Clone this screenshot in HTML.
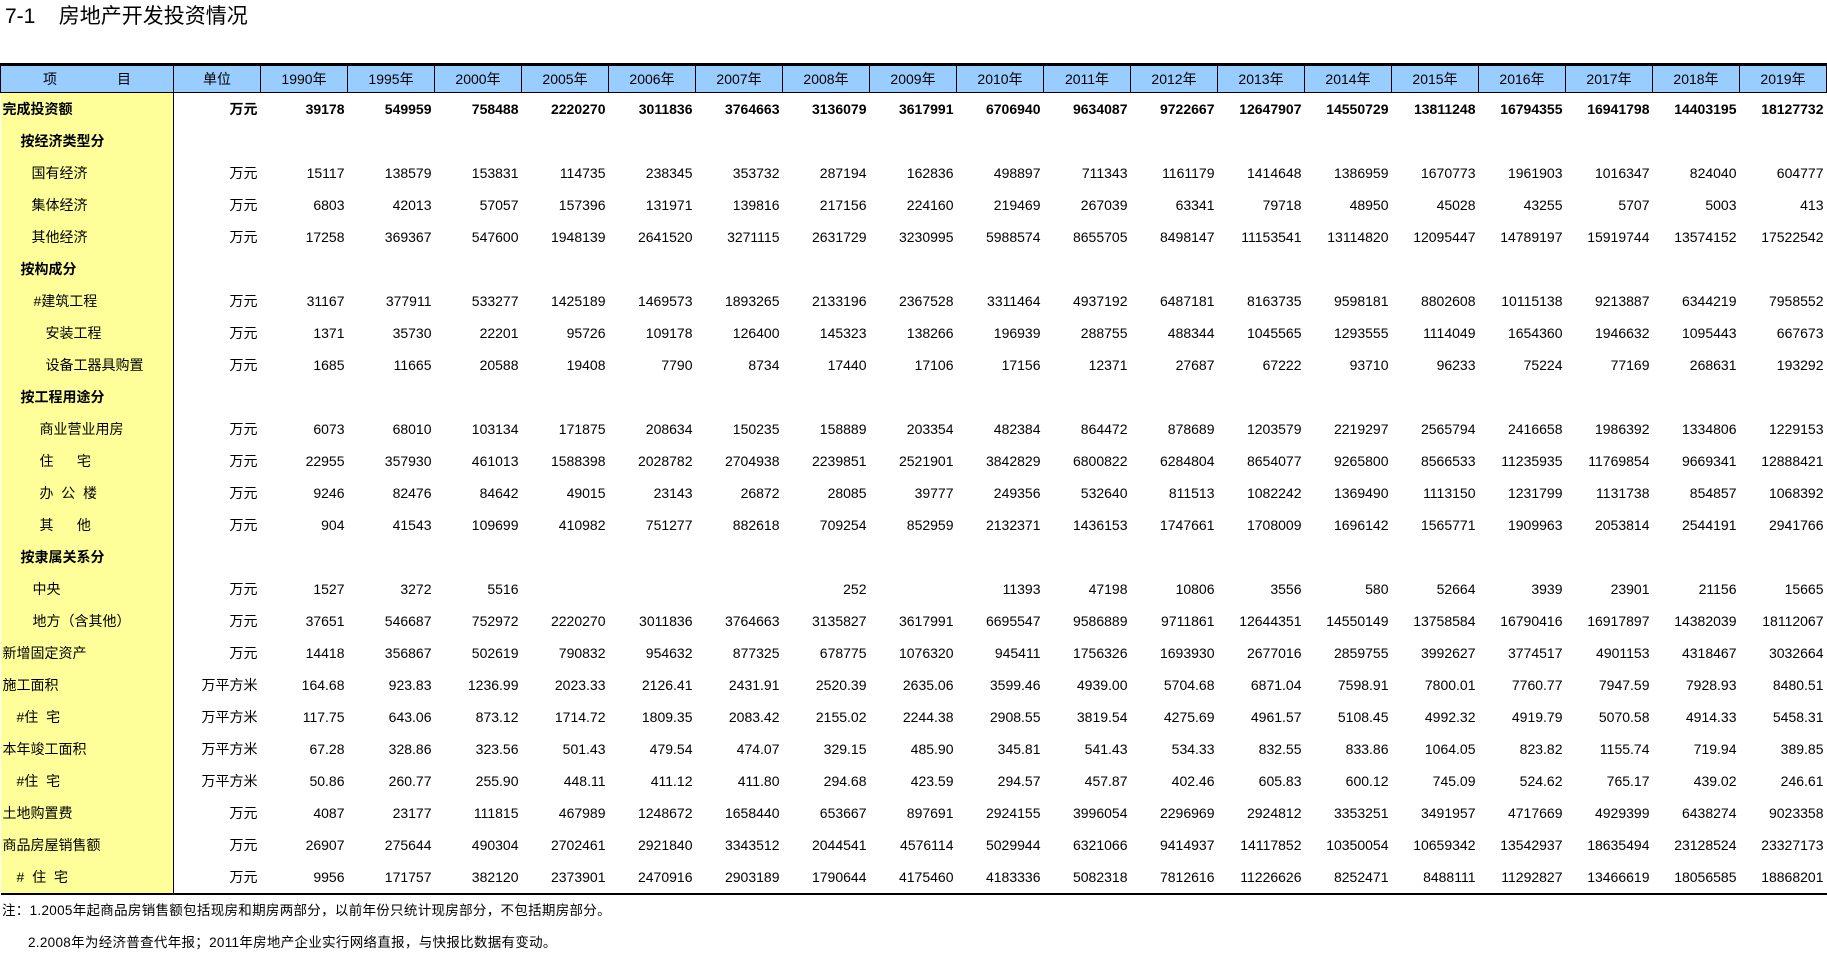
<!DOCTYPE html>
<html><head><meta charset="utf-8">
<style>
body{margin:0;width:1827px;height:957px;background:#fff;position:relative;overflow:hidden;font-family:"Liberation Sans","Noto Sans CJK SC",sans-serif;color:#000}
.t{position:absolute;left:5px;top:3px;font-size:21px;line-height:28px;white-space:pre}
table{position:absolute;left:0;top:63px;width:1827px;border-collapse:collapse;table-layout:fixed;font-size:14px}
th{background:#99ccff;font-weight:normal;height:26px;border:1px solid #000;border-top:3px solid #000;padding:0;font-size:14px}
td{height:32px;padding:0 3px 0 0;text-align:right;white-space:nowrap;overflow:hidden}
td:first-child{background:#ffff99;text-align:left;border-right:1px solid #000;padding:0}
tr.b td{font-weight:bold}
tr:last-child td{border-bottom:2px solid #000}
.n{position:absolute;font-size:13.5px;white-space:pre;letter-spacing:0.3px}
</style></head><body>
<div class="t">7-1    房地产开发投资情况</div>
<table>
<colgroup><col style="width:173px"><col style="width:87px"><col span="18"></colgroup>
<tr><th><span style="margin-right:60px">项</span>目</th><th>单位</th><th>1990年</th><th>1995年</th><th>2000年</th><th>2005年</th><th>2006年</th><th>2007年</th><th>2008年</th><th>2009年</th><th>2010年</th><th>2011年</th><th>2012年</th><th>2013年</th><th>2014年</th><th>2015年</th><th>2016年</th><th>2017年</th><th>2018年</th><th>2019年</th></tr>
<tr class="b"><td style="padding-left:2px">完成投资额</td><td>万元</td><td>39178</td><td>549959</td><td>758488</td><td>2220270</td><td>3011836</td><td>3764663</td><td>3136079</td><td>3617991</td><td>6706940</td><td>9634087</td><td>9722667</td><td>12647907</td><td>14550729</td><td>13811248</td><td>16794355</td><td>16941798</td><td>14403195</td><td>18127732</td></tr>
<tr class="b"><td style="padding-left:20px">按经济类型分</td><td></td><td></td><td></td><td></td><td></td><td></td><td></td><td></td><td></td><td></td><td></td><td></td><td></td><td></td><td></td><td></td><td></td><td></td><td></td></tr>
<tr><td style="padding-left:31px">国有经济</td><td>万元</td><td>15117</td><td>138579</td><td>153831</td><td>114735</td><td>238345</td><td>353732</td><td>287194</td><td>162836</td><td>498897</td><td>711343</td><td>1161179</td><td>1414648</td><td>1386959</td><td>1670773</td><td>1961903</td><td>1016347</td><td>824040</td><td>604777</td></tr>
<tr><td style="padding-left:31px">集体经济</td><td>万元</td><td>6803</td><td>42013</td><td>57057</td><td>157396</td><td>131971</td><td>139816</td><td>217156</td><td>224160</td><td>219469</td><td>267039</td><td>63341</td><td>79718</td><td>48950</td><td>45028</td><td>43255</td><td>5707</td><td>5003</td><td>413</td></tr>
<tr><td style="padding-left:31px">其他经济</td><td>万元</td><td>17258</td><td>369367</td><td>547600</td><td>1948139</td><td>2641520</td><td>3271115</td><td>2631729</td><td>3230995</td><td>5988574</td><td>8655705</td><td>8498147</td><td>11153541</td><td>13114820</td><td>12095447</td><td>14789197</td><td>15919744</td><td>13574152</td><td>17522542</td></tr>
<tr class="b"><td style="padding-left:20px">按构成分</td><td></td><td></td><td></td><td></td><td></td><td></td><td></td><td></td><td></td><td></td><td></td><td></td><td></td><td></td><td></td><td></td><td></td><td></td><td></td></tr>
<tr><td style="padding-left:33px">#建筑工程</td><td>万元</td><td>31167</td><td>377911</td><td>533277</td><td>1425189</td><td>1469573</td><td>1893265</td><td>2133196</td><td>2367528</td><td>3311464</td><td>4937192</td><td>6487181</td><td>8163735</td><td>9598181</td><td>8802608</td><td>10115138</td><td>9213887</td><td>6344219</td><td>7958552</td></tr>
<tr><td style="padding-left:45px">安装工程</td><td>万元</td><td>1371</td><td>35730</td><td>22201</td><td>95726</td><td>109178</td><td>126400</td><td>145323</td><td>138266</td><td>196939</td><td>288755</td><td>488344</td><td>1045565</td><td>1293555</td><td>1114049</td><td>1654360</td><td>1946632</td><td>1095443</td><td>667673</td></tr>
<tr><td style="padding-left:45px">设备工器具购置</td><td>万元</td><td>1685</td><td>11665</td><td>20588</td><td>19408</td><td>7790</td><td>8734</td><td>17440</td><td>17106</td><td>17156</td><td>12371</td><td>27687</td><td>67222</td><td>93710</td><td>96233</td><td>75224</td><td>77169</td><td>268631</td><td>193292</td></tr>
<tr class="b"><td style="padding-left:20px">按工程用途分</td><td></td><td></td><td></td><td></td><td></td><td></td><td></td><td></td><td></td><td></td><td></td><td></td><td></td><td></td><td></td><td></td><td></td><td></td><td></td></tr>
<tr><td style="padding-left:39px">商业营业用房</td><td>万元</td><td>6073</td><td>68010</td><td>103134</td><td>171875</td><td>208634</td><td>150235</td><td>158889</td><td>203354</td><td>482384</td><td>864472</td><td>878689</td><td>1203579</td><td>2219297</td><td>2565794</td><td>2416658</td><td>1986392</td><td>1334806</td><td>1229153</td></tr>
<tr><td style="padding-left:39px;white-space:pre">住      宅</td><td>万元</td><td>22955</td><td>357930</td><td>461013</td><td>1588398</td><td>2028782</td><td>2704938</td><td>2239851</td><td>2521901</td><td>3842829</td><td>6800822</td><td>6284804</td><td>8654077</td><td>9265800</td><td>8566533</td><td>11235935</td><td>11769854</td><td>9669341</td><td>12888421</td></tr>
<tr><td style="padding-left:39px;white-space:pre">办  公  楼</td><td>万元</td><td>9246</td><td>82476</td><td>84642</td><td>49015</td><td>23143</td><td>26872</td><td>28085</td><td>39777</td><td>249356</td><td>532640</td><td>811513</td><td>1082242</td><td>1369490</td><td>1113150</td><td>1231799</td><td>1131738</td><td>854857</td><td>1068392</td></tr>
<tr><td style="padding-left:39px;white-space:pre">其      他</td><td>万元</td><td>904</td><td>41543</td><td>109699</td><td>410982</td><td>751277</td><td>882618</td><td>709254</td><td>852959</td><td>2132371</td><td>1436153</td><td>1747661</td><td>1708009</td><td>1696142</td><td>1565771</td><td>1909963</td><td>2053814</td><td>2544191</td><td>2941766</td></tr>
<tr class="b"><td style="padding-left:20px">按隶属关系分</td><td></td><td></td><td></td><td></td><td></td><td></td><td></td><td></td><td></td><td></td><td></td><td></td><td></td><td></td><td></td><td></td><td></td><td></td><td></td></tr>
<tr><td style="padding-left:32px">中央</td><td>万元</td><td>1527</td><td>3272</td><td>5516</td><td></td><td></td><td></td><td>252</td><td></td><td>11393</td><td>47198</td><td>10806</td><td>3556</td><td>580</td><td>52664</td><td>3939</td><td>23901</td><td>21156</td><td>15665</td></tr>
<tr><td style="padding-left:32px">地方（含其他）</td><td>万元</td><td>37651</td><td>546687</td><td>752972</td><td>2220270</td><td>3011836</td><td>3764663</td><td>3135827</td><td>3617991</td><td>6695547</td><td>9586889</td><td>9711861</td><td>12644351</td><td>14550149</td><td>13758584</td><td>16790416</td><td>16917897</td><td>14382039</td><td>18112067</td></tr>
<tr><td style="padding-left:2px">新增固定资产</td><td>万元</td><td>14418</td><td>356867</td><td>502619</td><td>790832</td><td>954632</td><td>877325</td><td>678775</td><td>1076320</td><td>945411</td><td>1756326</td><td>1693930</td><td>2677016</td><td>2859755</td><td>3992627</td><td>3774517</td><td>4901153</td><td>4318467</td><td>3032664</td></tr>
<tr><td style="padding-left:2px">施工面积</td><td>万平方米</td><td>164.68</td><td>923.83</td><td>1236.99</td><td>2023.33</td><td>2126.41</td><td>2431.91</td><td>2520.39</td><td>2635.06</td><td>3599.46</td><td>4939.00</td><td>5704.68</td><td>6871.04</td><td>7598.91</td><td>7800.01</td><td>7760.77</td><td>7947.59</td><td>7928.93</td><td>8480.51</td></tr>
<tr><td style="padding-left:16px;white-space:pre">#住  宅</td><td>万平方米</td><td>117.75</td><td>643.06</td><td>873.12</td><td>1714.72</td><td>1809.35</td><td>2083.42</td><td>2155.02</td><td>2244.38</td><td>2908.55</td><td>3819.54</td><td>4275.69</td><td>4961.57</td><td>5108.45</td><td>4992.32</td><td>4919.79</td><td>5070.58</td><td>4914.33</td><td>5458.31</td></tr>
<tr><td style="padding-left:2px">本年竣工面积</td><td>万平方米</td><td>67.28</td><td>328.86</td><td>323.56</td><td>501.43</td><td>479.54</td><td>474.07</td><td>329.15</td><td>485.90</td><td>345.81</td><td>541.43</td><td>534.33</td><td>832.55</td><td>833.86</td><td>1064.05</td><td>823.82</td><td>1155.74</td><td>719.94</td><td>389.85</td></tr>
<tr><td style="padding-left:16px;white-space:pre">#住  宅</td><td>万平方米</td><td>50.86</td><td>260.77</td><td>255.90</td><td>448.11</td><td>411.12</td><td>411.80</td><td>294.68</td><td>423.59</td><td>294.57</td><td>457.87</td><td>402.46</td><td>605.83</td><td>600.12</td><td>745.09</td><td>524.62</td><td>765.17</td><td>439.02</td><td>246.61</td></tr>
<tr><td style="padding-left:2px">土地购置费</td><td>万元</td><td>4087</td><td>23177</td><td>111815</td><td>467989</td><td>1248672</td><td>1658440</td><td>653667</td><td>897691</td><td>2924155</td><td>3996054</td><td>2296969</td><td>2924812</td><td>3353251</td><td>3491957</td><td>4717669</td><td>4929399</td><td>6438274</td><td>9023358</td></tr>
<tr><td style="padding-left:2px">商品房屋销售额</td><td>万元</td><td>26907</td><td>275644</td><td>490304</td><td>2702461</td><td>2921840</td><td>3343512</td><td>2044541</td><td>4576114</td><td>5029944</td><td>6321066</td><td>9414937</td><td>14117852</td><td>10350054</td><td>10659342</td><td>13542937</td><td>18635494</td><td>23128524</td><td>23327173</td></tr>
<tr><td style="padding-left:16px;white-space:pre">#  住  宅</td><td>万元</td><td>9956</td><td>171757</td><td>382120</td><td>2373901</td><td>2470916</td><td>2903189</td><td>1790644</td><td>4175460</td><td>4183336</td><td>5082318</td><td>7812616</td><td>11226626</td><td>8252471</td><td>8488111</td><td>11292827</td><td>13466619</td><td>18056585</td><td>18868201</td></tr>
</table>
<div class="n" style="left:2px;top:899px">注：1.2005年起商品房销售额包括现房和期房两部分，以前年份只统计现房部分，不包括期房部分。</div>
<div class="n" style="left:28px;top:931px">2.2008年为经济普查代年报；2011年房地产企业实行网络直报，与快报比数据有变动。</div>
</body></html>
